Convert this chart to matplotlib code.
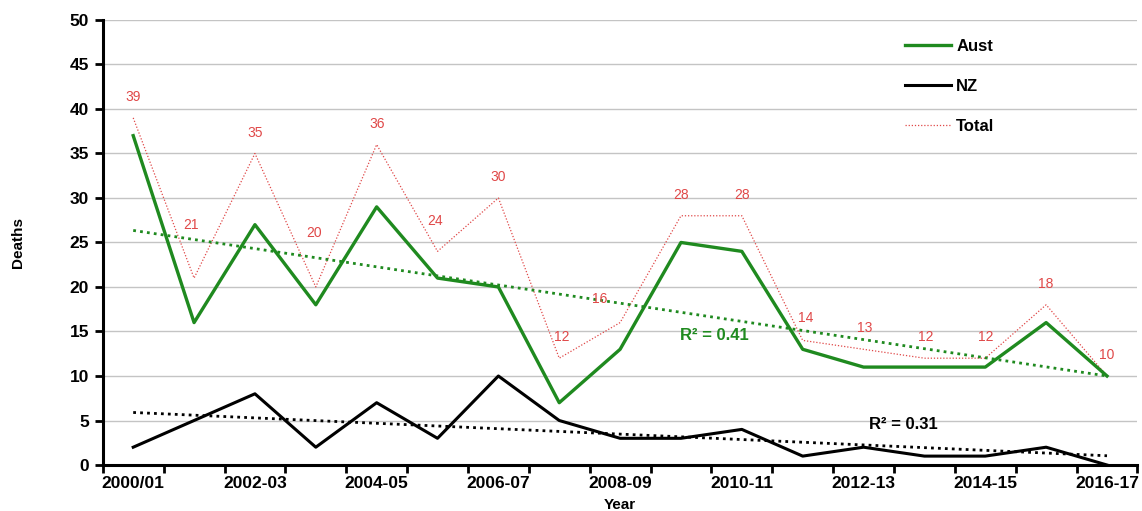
import numpy as np
from matplotlib import pyplot as plt

plt.rcParams['font.family'] = ['Liberation Sans', 'DejaVu Sans']

years = ['2000/01', '2001-02', '2002-03', '2003-04', '2004-05', '2005-06',
         '2006-07', '2007-08', '2008-09', '2009-10', '2010-11', '2011-12',
         '2012-13', '2013-14', '2014-15', '2015-16', '2016-17']
aust = [37, 16, 27, 18, 29, 21, 20, 7, 13, 25, 24, 13, 11, 11, 11, 16, 10]
nz = [2, 5, 8, 2, 7, 3, 10, 5, 3, 3, 4, 1, 2, 1, 1, 2, 0]
total = [39, 21, 35, 20, 36, 24, 30, 12, 16, 28, 28, 14, 13, 12, 12, 18, 10]

# label offsets (points) for the total labels
lab_dx = [0, -2, 0, -1, 0, -2, 0, 2, -15, 0, 0, 2, 1, 1, 0, 0, 0]
lab_dy = [15, 38, 15, 39, 15, 22, 15, 15, 17, 15, 15, 16, 15, 15, 15, 15, 15]

green = '#1f8a1f'
red = '#e04848'

fig = plt.figure(figsize=(11.42, 5.11), dpi=100)
ax = fig.add_axes([0.090, 0.090, 0.906, 0.871])

x = np.arange(len(years))

ax.plot(x, aust, color=green, lw=2.4, label='Aust', zorder=4)
ax.plot(x, nz, color='black', lw=2.2, label='NZ', zorder=4)
ax.plot(x, total, color=red, lw=0.9, ls=(0, (1, 1.5)), label='Total', zorder=3)

# linear trend lines
pa = np.polyfit(x, aust, 1)
pn = np.polyfit(x, nz, 1)
ax.plot(x, np.polyval(pa, x), color=green, lw=2, ls=(0, (1, 1.5)), zorder=3)
ax.plot(x, np.polyval(pn, x), color='black', lw=2, ls=(0, (1, 1.5)), zorder=3)

for i, v in enumerate(total):
    ax.annotate(str(v), (x[i], v), xytext=(lab_dx[i], lab_dy[i]),
                textcoords='offset points', ha='center', va='center',
                color=red, fontsize=10)

ax.text(9.55, 14.5, 'R² = 0.41', color=green, fontsize=12, fontweight='bold',
        ha='center', va='center')
ax.text(12.65, 4.5, 'R² = 0.31', color='black', fontsize=12, fontweight='bold',
        ha='center', va='center')

ax.set_xlim(-0.5, len(years) - 0.5)
ax.set_ylim(0, 50)
ax.set_yticks(np.arange(0, 51, 5))
ax.set_xticks(x[::2])
ax.set_xticklabels(years[::2])
ax.set_xticks(np.arange(-0.5, len(years), 1), minor=True)
ax.tick_params(axis='x', which='major', length=0, pad=8)
ax.tick_params(axis='x', which='minor', length=6, width=2, direction='out')
ax.tick_params(axis='y', length=6, width=2, direction='out', pad=4)
for lab in ax.get_xticklabels() + ax.get_yticklabels():
    lab.set_fontsize(12.5)
    lab.set_fontweight('bold')

ax.grid(axis='y', color='#c4c4c4', lw=1)
ax.set_axisbelow(True)
for s in ['top', 'right']:
    ax.spines[s].set_visible(False)
for s in ['left', 'bottom']:
    ax.spines[s].set_linewidth(2.2)

ax.set_ylabel('Deaths', fontsize=11, fontweight='bold', labelpad=32)
ax.set_xlabel('Year', fontsize=11, fontweight='bold', labelpad=5)

leg = ax.legend(loc='upper left', bbox_to_anchor=(0.775, 0.958), frameon=False,
                borderpad=0, borderaxespad=0, handlelength=2.8,
                handletextpad=0.3, labelspacing=1.5,
                prop={'weight': 'bold', 'size': 12})

fig.savefig('out.png', dpi=100)
